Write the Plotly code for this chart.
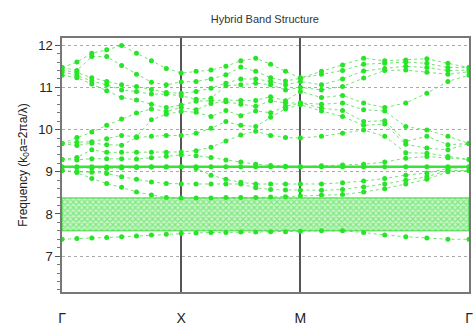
import numpy as np
import plotly.graph_objects as go

# High-symmetry path Γ-X-M-Γ for a square lattice (units of 2π/a path length)
sym_labels = ["Γ", "X", "M", "Γ"]
sym_pos = [0.0, 1.0, 2.0, 2.0 + np.sqrt(2.0)]
steps_per_segment = 8

# Eigenfrequencies (k0·a = 2πa/λ) at the 25 sampled k-points, one list per band
band_1 = [7.40, 7.42, 7.43, 7.44, 7.46, 7.48, 7.50, 7.52, 7.54,
          7.55, 7.56, 7.56, 7.57, 7.57, 7.58, 7.58, 7.59,
          7.60, 7.60, 7.56, 7.50, 7.46, 7.43, 7.40, 7.40]
band_2 = [9.03, 8.98, 8.84, 8.72, 8.63, 8.52, 8.45, 8.39, 8.38,
          8.38, 8.38, 8.39, 8.39, 8.39, 8.40, 8.41, 8.43,
          8.45, 8.46, 8.52, 8.60, 8.71, 8.82, 9.00, 9.03]
band_3 = [9.03, 9.00, 8.99, 8.96, 8.88, 8.82, 8.76, 8.72, 8.71,
          8.71, 8.71, 8.71, 8.71, 8.62, 8.58, 8.57, 8.56,
          8.56, 8.58, 8.64, 8.71, 8.80, 8.88, 9.03, 9.03]
band_4 = [9.10, 9.10, 9.09, 9.08, 9.09, 9.10, 9.11, 9.11, 9.12,
          9.08, 8.92, 8.82, 8.75, 8.71, 8.71, 8.71, 8.71,
          8.71, 8.74, 8.78, 8.84, 8.92, 8.97, 9.08, 9.10]
band_flat = [9.12] * 25

# Upper bands: one row per k-point, values in ascending order
upper_columns = [
    [9.29, 9.29, 9.67, 9.67, 9.67, 11.29, 11.37, 11.41, 11.47, 11.47],
    [9.28, 9.34, 9.62, 9.70, 9.81, 11.23, 11.28, 11.35, 11.40, 11.60],
    [9.31, 9.52, 9.68, 9.71, 9.94, 11.08, 11.15, 11.23, 11.73, 11.81],
    [9.31, 9.46, 9.64, 9.78, 10.10, 10.92, 11.06, 11.14, 11.73, 11.89],
    [9.31, 9.46, 9.63, 9.86, 10.25, 10.76, 10.94, 11.06, 11.52, 11.99],
    [9.30, 9.46, 9.81, 9.83, 10.39, 10.70, 10.90, 11.02, 11.31, 11.81],
    [9.33, 9.46, 9.84, 10.23, 10.49, 10.60, 10.84, 10.95, 11.12, 11.63],
    [9.37, 9.46, 9.86, 10.36, 10.43, 10.52, 10.84, 10.88, 11.06, 11.45],
    [9.40, 9.47, 9.86, 10.43, 10.52, 10.58, 10.80, 10.86, 11.13, 11.34],
    [9.38, 9.50, 9.91, 10.41, 10.47, 10.67, 10.72, 10.90, 11.14, 11.38],
    [9.34, 9.58, 10.03, 10.31, 10.62, 10.68, 10.74, 10.98, 11.20, 11.41],
    [9.28, 9.73, 10.19, 10.45, 10.66, 10.70, 11.04, 11.10, 11.30, 11.50],
    [9.23, 9.87, 10.10, 10.33, 10.60, 10.69, 11.06, 11.20, 11.48, 11.63],
    [9.18, 9.96, 10.07, 10.44, 10.55, 10.69, 11.10, 11.20, 11.38, 11.69],
    [9.15, 9.86, 10.29, 10.40, 10.68, 10.78, 11.06, 11.14, 11.23, 11.55],
    [9.13, 9.81, 10.49, 10.55, 10.63, 10.68, 10.94, 11.06, 11.15, 11.38],
    [9.12, 9.80, 10.59, 10.63, 10.63, 10.90, 11.00, 11.14, 11.22, 11.22],
    [9.14, 9.84, 10.44, 10.51, 10.60, 10.76, 10.94, 11.06, 11.31, 11.38],
    [9.16, 9.91, 10.31, 10.45, 10.63, 10.81, 11.02, 11.20, 11.40, 11.53],
    [9.18, 9.99, 10.10, 10.19, 10.47, 10.63, 11.22, 11.39, 11.55, 11.69],
    [9.23, 9.84, 10.13, 10.21, 10.44, 10.52, 11.40, 11.45, 11.57, 11.63],
    [9.32, 9.45, 9.65, 9.72, 10.07, 10.63, 11.41, 11.50, 11.60, 11.65],
    [9.36, 9.44, 9.56, 9.84, 9.99, 10.86, 11.36, 11.47, 11.57, 11.68],
    [9.33, 9.36, 9.52, 9.64, 9.84, 11.14, 11.31, 11.40, 11.47, 11.57],
    [9.29, 9.29, 9.67, 9.67, 9.67, 11.29, 11.37, 11.41, 11.47, 11.47],
]

y_ticks = [7, 8, 9, 10, 11, 12]

# k-point abscissae along the path
k_path = []
for seg in range(len(sym_pos) - 1):
    pts = np.linspace(sym_pos[seg], sym_pos[seg + 1], steps_per_segment + 1)
    k_path.extend(pts if seg == 0 else pts[1:])
k_path = np.array(k_path)

upper = np.array(upper_columns).T
bands = [band_1, band_2, band_3, band_4] + [list(r) for r in upper]

green = "rgb(40,228,40)"
line_green = "rgba(70,215,70,0.75)"

fig = go.Figure()

# Complete photonic band gap between band 1 and band 2
gap_lo = max(band_1)
gap_hi = min(band_2)
x0, x1 = sym_pos[0], sym_pos[-1]
fig.add_trace(go.Scatter(
    x=[x0, x1, x1, x0, x0], y=[gap_lo, gap_lo, gap_hi, gap_hi, gap_lo],
    mode="lines", fill="toself",
    fillcolor="rgba(255,255,255,1)",
    fillpattern=dict(shape="x", fgcolor="rgb(55,215,55)", bgcolor="rgb(200,246,200)",
                     size=4, solidity=0.5),
    line=dict(color="rgb(60,215,60)", width=1),
    hoverinfo="skip", showlegend=False,
))

for b in bands:
    fig.add_trace(go.Scatter(
        x=k_path, y=b, mode="lines+markers",
        line=dict(color=line_green, width=1, dash="dot"),
        marker=dict(color=green, size=5),
        showlegend=False,
    ))

# Dispersionless band drawn as a heavier line
fig.add_trace(go.Scatter(
    x=k_path, y=band_flat, mode="lines+markers",
    line=dict(color="rgb(60,225,60)", width=2.5),
    marker=dict(color=green, size=5),
    showlegend=False,
))

fig.update_layout(
    width=473, height=327,
    margin=dict(l=62, r=4, t=38, b=35),
    paper_bgcolor="white", plot_bgcolor="white",
    font=dict(family="Liberation Sans, Arial, sans-serif", color="#222"),
    title=dict(text="Hybrid Band Structure", x=0.56, xanchor="center",
               y=0.94, yanchor="middle", font=dict(size=11, color="#333")),
)

fig.update_xaxes(
    range=[sym_pos[0], sym_pos[-1]],
    tickvals=sym_pos, ticktext=sym_labels,
    showgrid=True, gridcolor="#555", gridwidth=1.5,
    showline=True, linecolor="#777", linewidth=1.5, mirror=True,
    ticks="", ticklabelstandoff=12, automargin=False, ticklabeloverflow="allow",
    tickfont=dict(size=14, color="#222", family="Liberation Sans, Arial, sans-serif"),
    zeroline=False,
)
fig.update_yaxes(
    range=[6.15, 12.17],
    tickvals=y_ticks,
    showgrid=True, gridcolor="#aaa", griddash="dot", gridwidth=1,
    showline=True, linecolor="#777", linewidth=1.5, mirror=True,
    ticks="outside", ticklen=5, tickcolor="#555",
    minor=dict(dtick=0.2, ticks="outside", ticklen=3, tickcolor="#777", showgrid=False),
    tickfont=dict(size=13, color="#222"),
    title=dict(text="Frequency (k<sub>0</sub>a=2πa/λ)", font=dict(size=12, color="#222"),
               standoff=8),
    automargin=False,
    zeroline=False,
)

fig.write_html("out.html")
